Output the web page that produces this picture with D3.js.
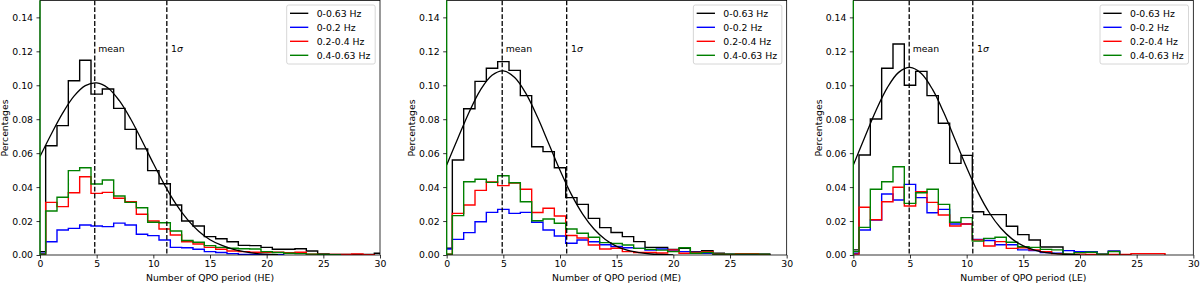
<!DOCTYPE html>
<html><head><meta charset="utf-8">
<script src="https://cdn.jsdelivr.net/npm/d3@7"></script>
<style>body{margin:0;background:#fff} svg{display:block} text{font-family:"DejaVu Sans",sans-serif;fill:#000}</style>
</head><body><svg id="c" width="1200" height="284"></svg>
<script>
// ---- data (bin centres 0,1,2,... ; bin width 1) ----
const seriesLabels = ["0-0.63 Hz", "0-0.2 Hz", "0.2-0.4 Hz", "0.4-0.63 Hz"];
const seriesColors = ["#000000", "#0000ff", "#ff0000", "#008000"];
const xTicks = [0, 5, 10, 15, 20, 25, 30];
const yTicks = [0, 0.02, 0.04, 0.06, 0.08, 0.10, 0.12, 0.14];
const panelNames = ["HE", "ME", "LE"];

const heTotal = [0.002, 0.0644, 0.0762, 0.1027, 0.1147, 0.0948, 0.0978, 0.0864, 0.074, 0.0625, 0.0497, 0.042, 0.0295, 0.020, 0.0171, 0.0108, 0.0096, 0.0078, 0.0057, 0.0055, 0.0045, 0.0034, 0.0034, 0.0037, 0.0024, 0.0006, 0.0003, 0.0003, 0.0003, 0.0003, 0.001];
const heLow   = [0.001, 0.0078, 0.0147, 0.0157, 0.0177, 0.0171, 0.0167, 0.0188, 0.0177, 0.0122, 0.0114, 0.0088, 0.0045, 0.0043, 0.0034, 0.002, 0.0015, 0.0008, 0.0003, 0.0003, 0.0002, 0.0002];
const heMid   = [0.0005, 0.031, 0.0285, 0.0367, 0.0461, 0.0363, 0.0369, 0.0334, 0.0314, 0.024, 0.020, 0.0153, 0.0118, 0.0078, 0.0065, 0.0045, 0.0034, 0.0024, 0.002, 0.0016, 0.0016, 0.0016, 0.0014, 0.0016, 0.0005, 0.0003, 0.0003, 0.0003, 0.0006, 0.0002];
const heHigh  = [0.0005, 0.0259, 0.034, 0.0497, 0.0514, 0.0418, 0.0442, 0.0348, 0.031, 0.0278, 0.0193, 0.019, 0.0141, 0.0085, 0.0075, 0.0055, 0.0045, 0.004, 0.0037, 0.0035, 0.002, 0.0015, 0.001, 0.0008, 0.0005, 0.0003, 0.0002];
const heFit   = [0.058, 0.0713, 0.0836, 0.0936, 0.0998, 0.1014, 0.0984, 0.0909, 0.0801, 0.0673, 0.0539, 0.0412, 0.0300, 0.0210, 0.0140, 0.0090, 0.0058, 0.0035, 0.0020, 0.0010, 0.0005, 0.0002];
const heMean = 4.83, heSigma = 11.19;

const meTotal = [0.004, 0.056, 0.0862, 0.1023, 0.110, 0.1139, 0.1088, 0.0939, 0.0638, 0.0609, 0.0514, 0.0338, 0.0298, 0.0216, 0.0161, 0.0133, 0.0108, 0.0079, 0.0045, 0.0045, 0.0033, 0.0039, 0.0020, 0.0026, 0.0010, 0.0005, 0.0008, 0.0008, 0.0004];
const meLow   = [0.0035, 0.0092, 0.0132, 0.0196, 0.0251, 0.0269, 0.0245, 0.0251, 0.0193, 0.0147, 0.0112, 0.0069, 0.0088, 0.0078, 0.006, 0.005, 0.0043, 0.0039, 0.0029, 0.0035, 0.0029, 0.002, 0.0016, 0.001, 0.0003, 0.0003, 0.0003, 0.0003, 0.0003];
const meMid   = [0.0005, 0.0245, 0.0295, 0.0381, 0.0430, 0.0409, 0.0424, 0.0387, 0.0250, 0.0275, 0.0230, 0.0115, 0.0100, 0.0059, 0.0035, 0.0040, 0.0020, 0.0015, 0.0015, 0.0012, 0.0030, 0.0010, 0.0015, 0.0020, 0.0005, 0.0003, 0.0008, 0.0008, 0.0003];
const meHigh  = [0.0005, 0.0232, 0.0432, 0.0446, 0.0428, 0.0467, 0.0426, 0.0314, 0.0202, 0.0212, 0.0187, 0.0153, 0.0128, 0.0105, 0.0073, 0.0068, 0.0059, 0.0039, 0.0033, 0.0029, 0.002, 0.0043, 0.001, 0.0015, 0.0005, 0.0005, 0.0005, 0.0005, 0.0005];
const meFit   = [0.053, 0.0689, 0.0844, 0.0974, 0.1059, 0.1085, 0.1046, 0.0951, 0.0814, 0.0657, 0.0499, 0.0357, 0.0241, 0.0153, 0.0091, 0.0051, 0.0027, 0.0014, 0.0006, 0.0003, 0.0001];
const meMean = 4.9, meSigma = 10.59;

const leTotal = [0.003, 0.0589, 0.0801, 0.110, 0.1243, 0.100, 0.1082, 0.0939, 0.0776, 0.054, 0.0587, 0.0255, 0.0238, 0.0238, 0.0169, 0.012, 0.0088, 0.0047, 0.0047, 0.0003, 0.002, 0.002, 0.0003, 0.0022];
const leLow   = [0.001, 0.0147, 0.0206, 0.0359, 0.0324, 0.0416, 0.0338, 0.0249, 0.0269, 0.0183, 0.0183, 0.0092, 0.0085, 0.006, 0.006, 0.003, 0.0026, 0.0015, 0.001, 0.0026, 0.002, 0.002, 0.0005, 0.0022];
const leMid   = [0.0005, 0.0281, 0.0208, 0.0314, 0.0399, 0.0289, 0.0373, 0.031, 0.0236, 0.0171, 0.0183, 0.0088, 0.0053, 0.0079, 0.0039, 0.0043, 0.003, 0.002, 0.0008, 0.0003, 0.0005, 0.0003, 0.0003, 0.0003, 0.0003, 0.0008, 0.0008, 0.0008];
const leHigh  = [0.002, 0.0163, 0.0387, 0.0432, 0.052, 0.0304, 0.0367, 0.0387, 0.0298, 0.0193, 0.022, 0.0082, 0.0098, 0.0105, 0.0075, 0.0049, 0.0045, 0.0033, 0.003, 0.0005, 0.0014, 0.0016, 0.0005, 0.002];
const leFit   = [0.053, 0.0692, 0.0851, 0.0986, 0.1076, 0.1105, 0.1069, 0.0974, 0.0836, 0.0676, 0.0515, 0.0369, 0.0249, 0.0159, 0.0095, 0.0054, 0.0029, 0.0014, 0.0007, 0.0003, 0.0001];
const leMean = 4.93, leSigma = 10.54;

const panels = [
  {name: panelNames[0], series: [heTotal, heLow, heMid, heHigh], fit: heFit, mean: heMean, sigma: heSigma},
  {name: panelNames[1], series: [meTotal, meLow, meMid, meHigh], fit: meFit, mean: meMean, sigma: meSigma},
  {name: panelNames[2], series: [leTotal, leLow, leMid, leHigh], fit: leFit, mean: leMean, sigma: leSigma}
];

// ---- layout ----
const svg = d3.select("#c");
const lefts = [40, 446.67, 853.33];
const pw = 340, pTop = 0.4, pBottom = 255;
const FS = 9.3;

panels.forEach((p, i) => {
  const g = svg.append("g").attr("transform", `translate(${lefts[i]},0)`);
  const x = d3.scaleLinear().domain([0, 30]).range([0, pw]);
  const y = d3.scaleLinear().domain([0, 0.15]).range([pBottom, pTop]);

  const cid = "clip" + i;
  g.append("clipPath").attr("id", cid).append("rect")
    .attr("x", 0).attr("y", pTop).attr("width", pw).attr("height", pBottom - pTop);
  const plot = g.append("g").attr("clip-path", `url(#${cid})`);

  // step histograms
  const line = d3.line().x(d => x(d[0])).y(d => y(d[1]));
  p.series.forEach((vals, s) => {
    const pts = [[-0.5, 0]];
    vals.forEach((v, k) => { pts.push([k - 0.5, v]); pts.push([k + 0.5, v]); });
    pts.push([vals.length - 0.5, 0]);
    plot.append("path").attr("d", line(pts)).attr("fill", "none")
      .attr("stroke", seriesColors[s]).attr("stroke-width", 1.4).attr("stroke-linejoin", "miter");
  });

  // fitted curve
  const fitLine = d3.line().x((d, k) => x(k)).y(d => y(d)).curve(d3.curveCatmullRom);
  plot.append("path").attr("d", fitLine(p.fit)).attr("fill", "none")
    .attr("stroke", "#000").attr("stroke-width", 1.3);

  // dashed mean / sigma lines
  [p.mean, p.sigma].forEach(v => {
    plot.append("line").attr("x1", x(v)).attr("x2", x(v)).attr("y1", pTop).attr("y2", pBottom)
      .attr("stroke", "#000").attr("stroke-width", 1.3).attr("stroke-dasharray", "4.8,2.1");
  });
  g.append("text").attr("x", x(p.mean) + 3.5).attr("y", 51.5).attr("font-size", FS).text("mean");
  const st = g.append("text").attr("x", x(p.sigma) + 4.3).attr("y", 51.5).attr("font-size", FS);
  st.append("tspan").text("1");
  st.append("tspan").attr("font-style", "italic").text("σ");

  // frame
  g.append("rect").attr("x", 0).attr("y", pTop).attr("width", pw).attr("height", pBottom - pTop)
    .attr("fill", "none").attr("stroke", "#000").attr("stroke-width", 0.8);
  // left spine overdrawn in green
  g.append("line").attr("x1", 0).attr("x2", 0).attr("y1", pTop).attr("y2", pBottom)
    .attr("stroke", seriesColors[3]).attr("stroke-width", 1.3);

  // axes
  const xa = g.append("g").attr("transform", `translate(0,${pBottom})`)
    .call(d3.axisBottom(x).tickValues(xTicks).tickSize(3.5).tickPadding(2.2).tickFormat(d3.format("d")));
  const ya = g.append("g")
    .call(d3.axisLeft(y).tickValues(yTicks).tickSize(3.5).tickPadding(3.5).tickFormat(d3.format(".2f")));
  [xa, ya].forEach(a => {
    a.select(".domain").remove();
    a.selectAll("line").attr("stroke", "#000").attr("stroke-width", 0.8);
    a.selectAll("text").attr("font-size", FS).attr("font-family", "DejaVu Sans").attr("fill", "#000");
  });

  g.append("text").attr("x", pw / 2).attr("y", 281).attr("text-anchor", "middle")
    .attr("font-size", FS).text(`Number of QPO period (${p.name})`);
  g.append("text").attr("transform", `translate(-31.7,128) rotate(-90)`)
    .attr("text-anchor", "middle").attr("font-size", FS).text("Percentages");

  // legend
  const lg = g.append("g").attr("transform", `translate(${pw - 93.3},5)`);
  lg.append("rect").attr("width", 88.5).attr("height", 59).attr("rx", 2)
    .attr("fill", "#fff").attr("fill-opacity", 0.8).attr("stroke", "#cccccc").attr("stroke-width", 0.8);
  seriesLabels.forEach((lab, s) => {
    const yy = 8.3 + 14 * s;
    lg.append("line").attr("x1", 3.3).attr("x2", 21.6).attr("y1", yy).attr("y2", yy)
      .attr("stroke", seriesColors[s]).attr("stroke-width", 1.4);
    lg.append("text").attr("x", 30).attr("y", yy).attr("dy", "0.35em").attr("font-size", FS).text(lab);
  });
});
</script></body></html>
